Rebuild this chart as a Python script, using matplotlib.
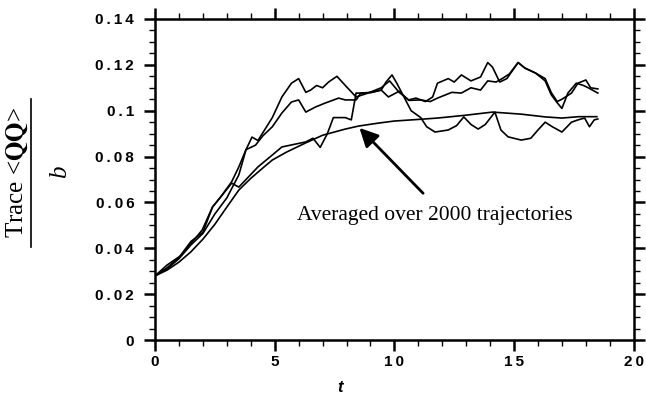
import matplotlib
matplotlib.use('Agg')
import matplotlib.pyplot as plt
from matplotlib.lines import Line2D
from matplotlib.ticker import MultipleLocator, FixedLocator, FixedFormatter

plt.rcParams['mathtext.fontset'] = 'stix'

# averaged curve
avg_t = [0, 0.5, 1.0, 1.5, 2.0, 2.5, 3.0, 3.5, 4.0, 4.5, 4.9, 5.5, 6.3, 7.0, 7.95, 8.5,
         9.33, 10.0, 11.0, 11.8, 12.95, 14.1, 15.3, 16.3, 17.0, 17.7, 18.46]
avg_v = [0.028, 0.0305, 0.034, 0.0385, 0.044, 0.0505, 0.058, 0.0654, 0.0705, 0.075, 0.0785,
         0.082, 0.086, 0.0893, 0.092, 0.0933, 0.0946, 0.0955, 0.0962, 0.0968, 0.098, 0.0994,
         0.0985, 0.0973, 0.0968, 0.0974, 0.0974]

# single trajectories
traj_a_t = [0, 0.5, 1.0, 1.5, 2.0, 2.4, 2.75, 3.2, 3.5, 3.8, 4.05, 4.3, 4.6, 4.9, 5.3, 5.7,
            6.0, 6.3, 6.5, 6.75, 7.0, 7.25, 7.6, 7.95, 8.4, 8.9, 9.45, 9.8, 10.2, 10.6, 10.9,
            11.3, 11.6, 11.8, 12.25, 12.5, 12.8, 13.2, 13.6, 13.9, 14.1, 14.4, 14.7, 15.17,
            15.45, 15.9, 16.3, 16.55, 16.8, 17.0, 17.4, 17.67, 18.0, 18.2, 18.5]
traj_a_v = [0.028, 0.0315, 0.036, 0.043, 0.047, 0.058, 0.0625, 0.069, 0.0755, 0.083, 0.0885,
            0.087, 0.092, 0.097, 0.106, 0.112, 0.114, 0.108, 0.109, 0.111, 0.110, 0.1125,
            0.115, 0.111, 0.106, 0.1077, 0.110, 0.113, 0.108, 0.1047, 0.1055, 0.104, 0.106,
            0.112, 0.114, 0.1125, 0.1156, 0.113, 0.1147, 0.121, 0.119, 0.1125, 0.114, 0.121,
            0.1186, 0.1164, 0.114, 0.108, 0.104, 0.105, 0.1077, 0.112, 0.1134, 0.110, 0.1095]

traj_b_t = [0, 0.5, 1.0, 1.5, 2.0, 2.5, 3.0, 3.5, 3.8, 4.2, 4.5, 4.9, 5.3, 5.7, 6.0, 6.3,
            6.7, 7.1, 7.67, 7.95, 8.4, 8.6, 9.05, 9.45, 9.75, 10.2, 10.6, 11.1, 11.5, 11.8,
            12.4, 12.8, 13.2, 13.6, 13.9, 14.25, 14.5, 14.8, 15.17, 15.45, 15.9, 16.3, 16.55,
            16.8, 17.0, 17.25, 17.6, 17.9, 18.1, 18.5]
traj_b_v = [0.028, 0.031, 0.0355, 0.0415, 0.0465, 0.055, 0.062, 0.072, 0.083, 0.085, 0.089,
            0.093, 0.099, 0.1038, 0.1047, 0.0994, 0.1016, 0.1033, 0.1055, 0.1047, 0.1047,
            0.1077, 0.108, 0.109, 0.106, 0.1085, 0.1045, 0.1047, 0.104, 0.1055, 0.108,
            0.1077, 0.110, 0.109, 0.113, 0.1125, 0.114, 0.116, 0.121, 0.1186, 0.1164, 0.113,
            0.107, 0.1035, 0.101, 0.1077, 0.112, 0.111, 0.110, 0.1077]

traj_c_t = [0, 0.5, 1.1, 1.55, 1.97, 2.4, 2.75, 3.2, 3.5, 4.3, 4.9, 5.3, 6.3, 6.6, 6.9,
            7.2, 7.45, 7.95, 8.2, 8.4, 8.8, 9.05, 9.45, 9.65, 9.9, 10.1, 10.4, 10.7, 11.1,
            11.35, 11.7, 12.25, 12.6, 12.9, 13.2, 13.5, 13.8, 14.2, 14.45, 14.75, 15.3,
            15.7, 16.0, 16.3, 16.6, 17.0, 17.4, 17.67, 17.95, 18.15, 18.35, 18.5]
traj_c_v = [0.028, 0.0327, 0.037, 0.0427, 0.048, 0.058, 0.0625, 0.0684, 0.0667, 0.0755,
            0.0807, 0.0842, 0.0864, 0.088, 0.084, 0.090, 0.097, 0.097, 0.096, 0.1077, 0.1077,
            0.108, 0.109, 0.1125, 0.1156, 0.112, 0.106, 0.100, 0.097, 0.093, 0.0907, 0.0916,
            0.0935, 0.0973, 0.094, 0.092, 0.094, 0.0994, 0.0916, 0.0886, 0.0872, 0.088, 0.0916,
            0.095, 0.093, 0.0907, 0.095, 0.096, 0.0968, 0.093, 0.096, 0.0964]

x_ticks = [0, 5, 10, 15, 20]
y_ticks = [0, 0.02, 0.04, 0.06, 0.08, 0.1, 0.12, 0.14]
x_labels = ['0', '5', '10', '15', '20']
y_labels = ['0', '0.02', '0.04', '0.06', '0.08', '0.1', '0.12', '0.14']

note = 'Averaged over 2000 trajectories'
note_xy = (5.92, 0.0545)
arrow_tip = (8.54, 0.0925)
arrow_tail = (11.2, 0.064)


def spaced(s):
    return '\u2009'.join(s)


fig = plt.figure(figsize=(6.46, 3.95), dpi=100)
ax = fig.add_axes([0.240, 0.139, 0.741, 0.813])

for t, v in [(avg_t, avg_v), (traj_a_t, traj_a_v), (traj_b_t, traj_b_v), (traj_c_t, traj_c_v)]:
    ax.plot(t, v, color='black', lw=1.2)

ax.set_xlim(0, 20)
ax.set_ylim(0, 0.14)
ax.xaxis.set_major_locator(FixedLocator(x_ticks))
ax.yaxis.set_major_locator(FixedLocator(y_ticks))
ax.xaxis.set_major_formatter(FixedFormatter([spaced(s) for s in x_labels]))
ax.yaxis.set_major_formatter(FixedFormatter([spaced(s) for s in y_labels]))
ax.xaxis.set_minor_locator(MultipleLocator(1))
ax.yaxis.set_minor_locator(MultipleLocator(0.005))

for sp in ax.spines.values():
    sp.set_linewidth(1.8)
ax.tick_params(which='both', direction='out', top=True, right=True,
               labeltop=False, labelright=False)
ax.tick_params(which='major', length=8, width=1.8)
ax.tick_params(which='minor', length=4, width=1.0)
ax.tick_params(axis='y', which='major', pad=7)
ax.tick_params(axis='x', which='major', pad=3)
for lab in ax.get_xticklabels() + ax.get_yticklabels():
    lab.set_fontfamily('Liberation Sans')
    lab.set_fontweight('bold')
    lab.set_fontsize(11)

ax.text(*note_xy, note, fontfamily='Liberation Serif', fontsize=15.5, va='center', ha='left')
ax.annotate('', xy=arrow_tip, xytext=arrow_tail,
            arrowprops=dict(arrowstyle='-|>', lw=2, color='black', mutation_scale=28,
                            shrinkA=0, shrinkB=0))

# x label
fig.text(340 / 646, 1 - 388 / 395, 't', fontfamily='Liberation Sans', fontstyle='italic',
         fontweight='bold', fontsize=12, ha='center', va='center')

# y label as a fraction
fig.text(17 / 646, 1 - 172 / 395, r'Trace <$\mathbf{QQ}$>', fontfamily='Liberation Serif',
         fontsize=18, rotation=90, ha='center', va='center')
fig.add_artist(Line2D([31 / 646, 31 / 646], [1 - 247 / 395, 1 - 99 / 395],
                      transform=fig.transFigure, color='black', lw=1.2))
fig.text(60 / 646, 1 - 172 / 395, 'b', fontfamily='Liberation Serif', fontstyle='italic',
         fontsize=18, rotation=90, ha='center', va='center')

fig.savefig('out.png', dpi=100)
